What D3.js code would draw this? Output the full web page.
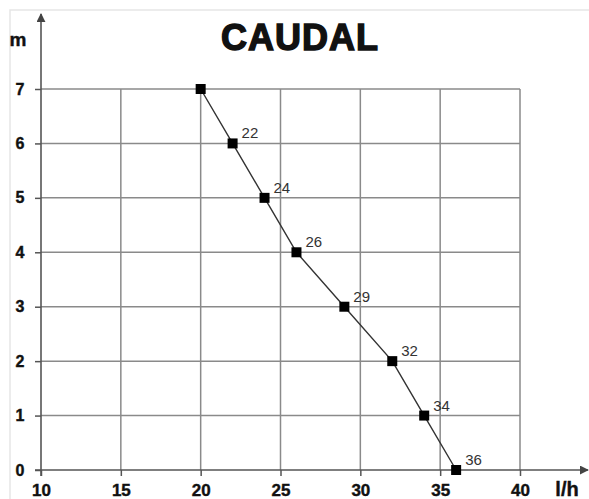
<!DOCTYPE html>
<html><head><meta charset="utf-8">
<script src="https://cdn.jsdelivr.net/npm/d3@7"></script>
<style>body{margin:0;background:#fff}svg{display:block}</style>
</head><body>
<script>
const caudal = [20, 22, 24, 26, 29, 32, 34, 36];
const altura = [7, 6, 5, 4, 3, 2, 1, 0];
const pointLabels = ["", "22", "24", "26", "29", "32", "34", "36"];
const xTicks = [10, 15, 20, 25, 30, 35, 40];
const yTicks = [0, 1, 2, 3, 4, 5, 6, 7];
const title = "CAUDAL";

const W = 589, H = 499;
const svg = d3.select("body").append("svg").attr("width", W).attr("height", H);
const x = d3.scaleLinear().domain([10, 40]).range([41, 520]);
const y = d3.scaleLinear().domain([0, 7]).range([470, 89]);
const font = "'Liberation Sans', Arial, sans-serif";

// faint frame
svg.append("path").attr("d", `M10,${H}V10H${W}`).attr("fill", "none").attr("stroke", "#e6e6e6").attr("stroke-width", 1.5);

// grid
svg.append("g").selectAll("line").data(xTicks.filter(d => d > 10)).join("line")
  .attr("x1", d => x(d)).attr("x2", d => x(d)).attr("y1", y(7)).attr("y2", y(0))
  .attr("stroke", "#8a8a8a").attr("stroke-width", 1.5);
svg.append("g").selectAll("line").data(yTicks.filter(d => d > 0)).join("line")
  .attr("x1", x(10)).attr("x2", x(40)).attr("y1", d => y(d)).attr("y2", d => y(d))
  .attr("stroke", "#8a8a8a").attr("stroke-width", 1.5);

// axes
const xAxis = d3.axisBottom(x).tickValues(xTicks).tickFormat(d3.format("d")).tickSize(6).tickPadding(8);
const gx = svg.append("g").attr("transform", `translate(0,${y(0)})`).call(xAxis);
gx.select(".domain").remove();
gx.selectAll(".tick line").attr("stroke", "#555").attr("stroke-width", 1.5);
gx.selectAll(".tick text").attr("font-family", font).attr("font-weight", "bold").attr("font-size", 17)
  .attr("fill", "#111").attr("stroke", "#111").attr("stroke-width", 0.4);

const yAxis = d3.axisLeft(y).tickValues(yTicks).tickFormat(d3.format("d")).tickSize(6).tickPadding(19);
const gy = svg.append("g").attr("transform", `translate(${x(10)},0)`).call(yAxis);
gy.select(".domain").remove();
gy.selectAll(".tick line").attr("stroke", "#555").attr("stroke-width", 1.5);
gy.selectAll(".tick text").attr("font-family", font).attr("font-weight", "bold").attr("font-size", 16)
  .attr("fill", "#111").attr("stroke", "#111").attr("stroke-width", 0.4).attr("text-anchor", "middle").attr("dx", 4);

// axis lines with arrows
svg.append("defs").append("marker").attr("id", "arr").attr("viewBox", "0 0 10 10")
  .attr("refX", 9).attr("refY", 5).attr("markerWidth", 9).attr("markerHeight", 9)
  .attr("markerUnits", "userSpaceOnUse").attr("orient", "auto")
  .append("path").attr("d", "M0,0L10,5L0,10Z").attr("fill", "#444");
svg.append("line").attr("x1", x(10)).attr("x2", x(10)).attr("y1", y(0) + 6).attr("y2", 14)
  .attr("stroke", "#555").attr("stroke-width", 1.6).attr("marker-end", "url(#arr)");
svg.append("line").attr("x1", x(10) - 6).attr("x2", 588).attr("y1", y(0)).attr("y2", y(0))
  .attr("stroke", "#555").attr("stroke-width", 1.6).attr("marker-end", "url(#arr)");

// axis units
svg.append("text").attr("x", 18).attr("y", 46).attr("text-anchor", "middle")
  .attr("font-family", font).attr("font-weight", "bold").attr("font-size", 19).attr("fill", "#111")
  .attr("stroke", "#111").attr("stroke-width", 0.4).text("m");
svg.append("text").attr("x", 567).attr("y", 496).attr("text-anchor", "middle")
  .attr("font-family", font).attr("font-weight", "bold").attr("font-size", 20).attr("fill", "#111")
  .attr("stroke", "#111").attr("stroke-width", 0.4).text("l/h");

// title
svg.append("text").attr("x", 300).attr("y", 50).attr("text-anchor", "middle")
  .attr("font-family", font).attr("font-weight", "900").attr("font-size", 36).attr("fill", "#111")
  .attr("stroke", "#111").attr("stroke-width", 1.4).attr("letter-spacing", 1).text(title);

// data
const data = caudal.map((c, i) => ({c, h: altura[i], label: pointLabels[i]}));
svg.append("path").datum(data)
  .attr("d", d3.line().x(d => x(d.c)).y(d => y(d.h)))
  .attr("fill", "none").attr("stroke", "#333").attr("stroke-width", 1.4);
svg.append("g").selectAll("rect").data(data).join("rect")
  .attr("x", d => x(d.c) - 5).attr("y", d => y(d.h) - 5).attr("width", 10).attr("height", 10)
  .attr("fill", "#000");
svg.append("g").selectAll("text").data(data).join("text")
  .attr("x", d => x(d.c) + 9).attr("y", d => y(d.h) - 5)
  .attr("font-family", font).attr("font-size", 15).attr("fill", "#333").text(d => d.label);
</script>
</body></html>
